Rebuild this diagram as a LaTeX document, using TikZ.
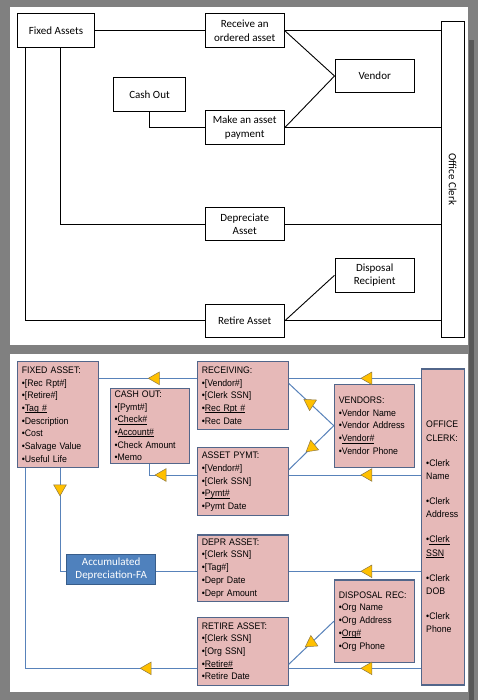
\documentclass[tikz,border=0pt]{standalone}
\usepackage{fontspec}
\setmainfont{Carlito}
\newfontfamily\tblfont[FakeStretch=0.92]{Liberation Sans}
\usetikzlibrary{shapes.geometric}

\definecolor{bggray}{RGB}{128,128,128}
\definecolor{edgegray}{RGB}{88,88,88}
\definecolor{tblfill}{RGB}{230,185,184}
\definecolor{tbledge}{RGB}{82,102,138}
\definecolor{linkblue}{RGB}{88,130,186}
\definecolor{accfill}{RGB}{79,129,189}
\definecolor{accedge}{RGB}{56,93,138}
\definecolor{triyellow}{RGB}{255,192,0}
\definecolor{triedge}{RGB}{140,120,70}

% underlined key field
\newcommand{\keyfld}[1]{\leavevmode\setbox0=\hbox{#1}\rlap{\rule[-1.4pt]{\wd0}{0.55pt}}\box0}

\tikzset{
  proc/.style={draw=black, line width=1.1pt, align=center, inner sep=0pt,
    font=\fontsize{11}{13.3}\selectfont},
  wire/.style={draw=black, line width=0.9pt},
  tbl/.style={draw=tbledge, fill=tblfill, line width=1.1pt, align=left,
    inner xsep=4.5pt, inner ysep=0pt, font=\tblfont\fontsize{9.5}{12.7}\selectfont},
  accbox/.style={draw=accedge, fill=accfill, text=white, line width=1.1pt,
    align=center, inner sep=0pt, font=\fontsize{11}{13.3}\selectfont},
  link/.style={draw=linkblue, line width=1pt},
  tri/.style={regular polygon, regular polygon sides=3, fill=triyellow,
    draw=triedge, line width=0.5pt, minimum size=14.6pt, inner sep=0pt}
}

\begin{document}
\begin{tikzpicture}[x=1pt,y=-1pt]
\useasboundingbox (0,0) rectangle (478,700);

% background and the two panels
\fill[bggray] (0,0) rectangle (478,700);
\fill[edgegray] (469,40) rectangle (473.5,700);
\fill[white] (10,7) rectangle (467.5,345);
\fill[white] (10,354) rectangle (468,692);

% top panel: processes and agents
\node[proc, minimum width=76.6, minimum height=33.7] (fixed) at (56,30.8) {Fixed Assets};
\node[proc, minimum width=79.3, minimum height=33.7] (receive) at (244.7,30.8) {Receive an\\ordered asset};
\node[proc, minimum width=79.3, minimum height=33.4] (vendor) at (374.7,76) {Vendor};
\node[proc, minimum width=72.4, minimum height=33.7] (cash) at (149.5,94.8) {Cash Out};
\node[proc, minimum width=79.3, minimum height=33.6] (payment) at (244.7,127.5) {Make an asset\\payment};
\node[proc, minimum width=79.3, minimum height=33.4] (depr) at (244.7,224) {Depreciate\\Asset};
\node[proc, minimum width=79.3, minimum height=34] (disposal) at (374.7,275.3) {Disposal\\Recipient};
\node[proc, minimum width=79.3, minimum height=33.3] (retire) at (244.7,320.7) {Retire Asset};
\node[proc, minimum width=23.3, minimum height=316] (clerk) at (452.7,179.3) {\rotatebox{-90}{Office Clerk}};

% top panel: links
\draw[wire] (fixed) -- (receive);
\draw[wire] (receive.east) -- (receive.east -| clerk.west);
\draw[wire] (receive.east) -- (vendor.west);
\draw[wire] (payment.east) -- (vendor.west);
\draw[wire] (payment.east) -- (payment.east -| clerk.west);
\draw[wire] (cash.south) |- (payment.west);
\draw[wire] ([xshift=4]fixed.south) |- (depr.west);
\draw[wire] (depr.east) -- (depr.east -| clerk.west);
\draw[wire] ([xshift=8]fixed.south west) |- (retire.west);
\draw[wire] (retire.east) -- (retire.east -| clerk.west);
\draw[wire] (retire.east) -- (disposal.west);

% bottom panel: tables
\node[tbl, minimum width=81, text width=72, minimum height=105.6] (fixedasset) at (57.8,414.5)
  {FIXED ASSET:\\•[Rec Rpt\#]\\•[Retire\#]\\•\keyfld{Tag \#}\\•Description\\•Cost\\•Salvage Value\\•Useful Life};
\node[tbl, minimum width=79.3, text width=70.3, minimum height=75] (cashout) at (149.7,425.8)
  {CASH OUT:\\•[Pymt\#]\\•\keyfld{Check\#}\\•\keyfld{Account\#}\\•Check Amount\\•Memo};
\node[tbl, minimum width=91, text width=82, minimum height=67.6] (receiving) at (242.8,395.5)
  {RECEIVING:\\•[Vendor\#]\\•[Clerk SSN]\\•\keyfld{Rec Rpt \#}\\•Rec Date};
\node[tbl, minimum width=91, text width=82, minimum height=68] (assetpymt) at (242.8,481.7)
  {ASSET PYMT:\\•[Vendor\#]\\•[Clerk SSN]\\•\keyfld{Pymt\#}\\•Pymt Date};
\node[tbl, minimum width=79.7, text width=70.7, minimum height=83.3] (vendors) at (374.2,425.7)
  {VENDORS:\\•Vendor Name\\•Vendor Address\\•\keyfld{Vendor\#}\\•Vendor Phone};
\node[tbl, minimum width=42.6, text width=33.6, minimum height=316,
  font=\tblfont\fontsize{9.5}{13.3}\selectfont] (officeclerk) at (443,527)
  {OFFICE\\CLERK:\\[11.7pt]•Clerk\\Name\\[11.7pt]•Clerk\\Address\\[11.7pt]•\keyfld{Clerk}\\\keyfld{SSN}\\[11.7pt]•Clerk\\DOB\\[11.7pt]•Clerk\\Phone};
\node[accbox, minimum width=89, minimum height=30] (accum) at (111.2,569.3) {Accumulated\\Depreciation-FA};
\node[tbl, minimum width=91, text width=82, minimum height=66.7] (deprasset) at (242.8,568.3)
  {DEPR ASSET:\\•[Clerk SSN]\\•[Tag\#]\\•Depr Date\\•Depr Amount};
\node[tbl, minimum width=91, text width=82, minimum height=67.7] (retireasset) at (242.8,651.2)
  {RETIRE ASSET:\\•[Clerk SSN]\\•[Org SSN]\\•\keyfld{Retire\#}\\•Retire Date};
\node[tbl, minimum width=79.7, text width=70.7, minimum height=82.7] (disposalrec) at (374.2,621.3)
  {DISPOSAL REC:\\•Org Name\\•Org Address\\•\keyfld{Org\#}\\•Org Phone};

% bottom panel: link levels
\coordinate (rowa) at (0,378.3);
\coordinate (rowb) at (0,475);
\coordinate (rowd) at (0,571.3);
\coordinate (rowe) at (0,668.3);
\coordinate (cola) at (25.7,0);
\coordinate (colb) at (60,0);

% bottom panel: links
\draw[link] (fixedasset.east |- rowa) -- node[tri, pos=.58, shape border rotate=90]{} (receiving.west |- rowa);
\draw[link] (receiving.east |- rowa) -- node[tri, pos=.6, shape border rotate=90]{} (officeclerk.west |- rowa);
\draw[link] ([yshift=12]receiving.east) -- node[tri, pos=.47, shape border rotate=177]{} (vendors.west);
\draw[link] ([yshift=12]assetpymt.east) -- node[tri, pos=.51, shape border rotate=9]{} (vendors.west);
\draw[link] (cashout.south) |- node[tri, pos=.635, shape border rotate=90]{} (assetpymt.west |- rowb);
\draw[link] (assetpymt.east |- rowb) -- node[tri, pos=.6, shape border rotate=90]{} (officeclerk.west |- rowb);
\draw[link] (fixedasset.south -| colb) |- node[tri, pos=.1, shape border rotate=180]{} (accum.west |- rowd);
\draw[link] (accum.east |- rowd) -- (deprasset.west |- rowd);
\draw[link] (deprasset.east |- rowd) -- node[tri, pos=.6, shape border rotate=90]{} (officeclerk.west |- rowd);
\draw[link] (fixedasset.south -| cola) |- node[tri, pos=.856, shape border rotate=90]{} (retireasset.west |- rowe);
\draw[link] (retireasset.east |- rowe) -- node[tri, pos=.6, shape border rotate=90]{} (officeclerk.west |- rowe);
\draw[link] ([yshift=-13]retireasset.east) -- node[tri, pos=.5, shape border rotate=4]{} (disposalrec.west);

\end{tikzpicture}
\end{document}
